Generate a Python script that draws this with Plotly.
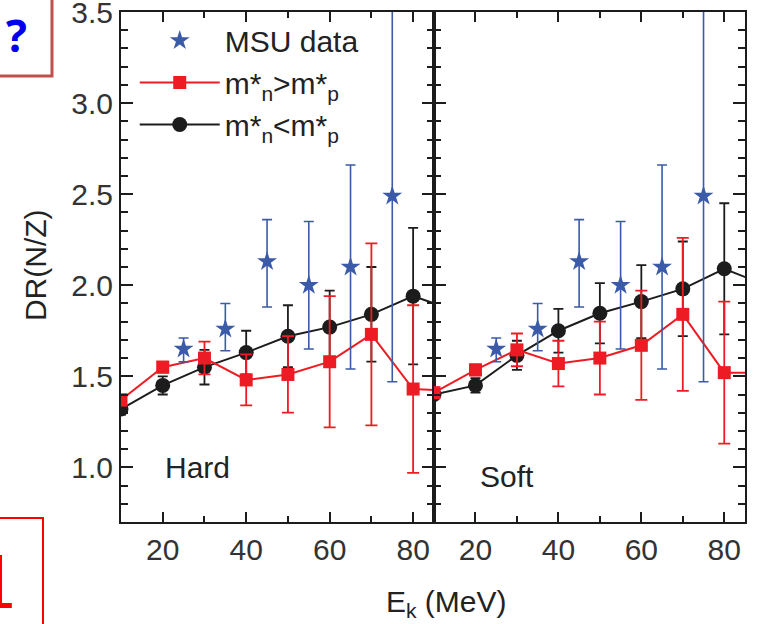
import plotly.graph_objects as go

# ---------------- data ----------------
energy = [10, 20, 30, 40, 50, 60, 70, 80, 90]

msu_energy = [25, 35, 45, 55, 65, 75]
msu_dr = [1.65, 1.76, 2.13, 2.00, 2.10, 2.49]
msu_err_plus = [0.06, 0.14, 0.23, 0.35, 0.56, 1.30]
msu_err_minus = [0.07, 0.12, 0.25, 0.35, 0.56, 1.02]

hard_red = [1.37, 1.55, 1.60, 1.48, 1.51, 1.58, 1.73, 1.43, 1.42]
hard_red_err = [0.03, 0.03, 0.09, 0.14, 0.21, 0.36, 0.50, 0.46, 0.45]
hard_black = [1.32, 1.45, 1.55, 1.63, 1.72, 1.77, 1.84, 1.94, 1.86]
hard_black_err = [0.03, 0.05, 0.095, 0.12, 0.17, 0.20, 0.26, 0.375, 0.37]

soft_red = [1.41, 1.535, 1.645, 1.57, 1.60, 1.67, 1.84, 1.52, 1.52]
soft_red_err = [0.02, 0.03, 0.09, 0.125, 0.20, 0.30, 0.42, 0.39, 0.40]
soft_black = [1.40, 1.45, 1.615, 1.75, 1.846, 1.91, 1.98, 2.09, 2.00]
soft_black_err = [0.02, 0.04, 0.08, 0.12, 0.165, 0.20, 0.26, 0.36, 0.36]

panel_labels = ["Hard", "Soft"]
legend_names = ["MSU data", "m*<sub>n</sub>>m*<sub>p</sub>", "m*<sub>n</sub><m*<sub>p</sub>"]

RED = "#ed1c24"
BLUE = "#3b5aa8"
BLACK = "#1c1c1c"
FONT = "Liberation Sans, Arial, sans-serif"

fig = go.Figure()

panels = [("x", "y", hard_red, hard_red_err, hard_black, hard_black_err),
          ("x2", "y2", soft_red, soft_red_err, soft_black, soft_black_err)]

for i, (xa, ya, red, red_err, blk, blk_err) in enumerate(panels):
    show = i == 0
    fig.add_trace(go.Scatter(
        x=energy, y=blk, xaxis=xa, yaxis=ya, mode="lines+markers",
        name=legend_names[2], showlegend=show, legendrank=3,
        line=dict(color=BLACK, width=2),
        marker=dict(symbol="circle", size=15, color=BLACK),
        error_y=dict(type="data", array=blk_err, color=BLACK, thickness=1.8, width=5),
    ))
    fig.add_trace(go.Scatter(
        x=energy, y=red, xaxis=xa, yaxis=ya, mode="lines+markers",
        name=legend_names[1], showlegend=show, legendrank=2,
        line=dict(color=RED, width=2),
        marker=dict(symbol="square", size=13, color=RED),
        error_y=dict(type="data", array=red_err, color=RED, thickness=1.8, width=6),
    ))
    fig.add_trace(go.Scatter(
        x=msu_energy, y=msu_dr, xaxis=xa, yaxis=ya, mode="markers",
        name=legend_names[0], showlegend=show, legendrank=1,
        marker=dict(symbol="star", size=15, color=BLUE),
        error_y=dict(type="data", array=msu_err_plus, arrayminus=msu_err_minus,
                     color=BLUE, thickness=1.6, width=5),
    ))

axis_common = dict(
    showline=True, linewidth=2, linecolor=BLACK, mirror="ticks",
    showgrid=False, zeroline=False, ticks="inside", tickcolor=BLACK,
    tickwidth=1.5, tickfont=dict(family=FONT, size=30, color="#333"),
    ticklabeloverflow="allow", automargin=False,
)
xaxis_common = dict(axis_common, range=[10, 85], tick0=0, dtick=20, ticklen=10,
                    minor=dict(tick0=0, dtick=10, ticks="inside", ticklen=6,
                               tickwidth=1.5, tickcolor=BLACK))
yaxis_common = dict(axis_common, range=[0.7, 3.5], tick0=0, dtick=0.5, ticklen=12,
                    tickformat=".1f",
                    minor=dict(tick0=0, dtick=0.1, ticks="inside", ticklen=7,
                               tickwidth=1.5, tickcolor=BLACK))

split = 313 / 624
fig.update_layout(
    width=757, height=624,
    margin=dict(l=121, r=12, t=12, b=102),
    paper_bgcolor="white", plot_bgcolor="white",
    xaxis=dict(xaxis_common, domain=[0, split], anchor="y"),
    xaxis2=dict(xaxis_common, domain=[split, 1], anchor="y2"),
    yaxis=dict(yaxis_common, anchor="x"),
    yaxis2=dict(yaxis_common, anchor="x2", matches="y", showticklabels=False),
    legend=dict(x=0.022, y=0.995, xanchor="left", yanchor="top",
                bgcolor="rgba(0,0,0,0)", font=dict(family=FONT, size=30, color="#222"),
                itemwidth=80, traceorder="normal"),
    font=dict(family=FONT, color="#222"),
)

fig.add_annotation(x=20, y=1.0, xref="x", yref="y", text=panel_labels[0], showarrow=False,
                   xanchor="left", yanchor="middle", font=dict(size=30, family=FONT, color="#222"))
fig.add_annotation(x=20.7, y=0.95, xref="x2", yref="y2", text=panel_labels[1], showarrow=False,
                   xanchor="left", yanchor="middle", font=dict(size=30, family=FONT, color="#222"))

# axis titles
fig.add_annotation(x=-0.136, y=0.504, xref="paper", yref="paper", text="DR(N/Z)",
                   textangle=-90, showarrow=False, xanchor="center", yanchor="middle",
                   font=dict(size=30, family=FONT, color="#222"))
fig.add_annotation(x=0.521, y=-0.159, xref="paper", yref="paper", text="E<sub>k</sub> (MeV)",
                   showarrow=False, xanchor="center", yanchor="middle",
                   font=dict(size=30, family=FONT, color="#222"))

# decorative boxes at left edge
fig.add_shape(type="rect", xref="paper", yref="paper", x0=-0.21, x1=-0.1106, y0=0.8745, y1=1.03,
              line=dict(color="#c0504d", width=3), fillcolor="rgba(0,0,0,0)")
fig.add_annotation(x=-0.168, y=0.955, xref="paper", yref="paper", text="<b>?</b>", showarrow=False,
                   xanchor="center", yanchor="middle",
                   font=dict(size=44, family="Open Sans, sans-serif", color="#0000ee"))
fig.add_shape(type="rect", xref="paper", yref="paper", x0=-0.21, x1=-0.125, y0=-0.22, y1=0.0078,
              line=dict(color="#ff0000", width=2), fillcolor="rgba(0,0,0,0)")
fig.add_shape(type="rect", xref="paper", yref="paper", x0=-0.2, x1=-0.1907, y0=-0.1686, y1=-0.0647,
              line=dict(width=0), fillcolor="#ff0000")
fig.add_shape(type="rect", xref="paper", yref="paper", x0=-0.2, x1=-0.175, y0=-0.1686, y1=-0.1588,
              line=dict(width=0), fillcolor="#ff0000")

fig.write_html("out.html")
